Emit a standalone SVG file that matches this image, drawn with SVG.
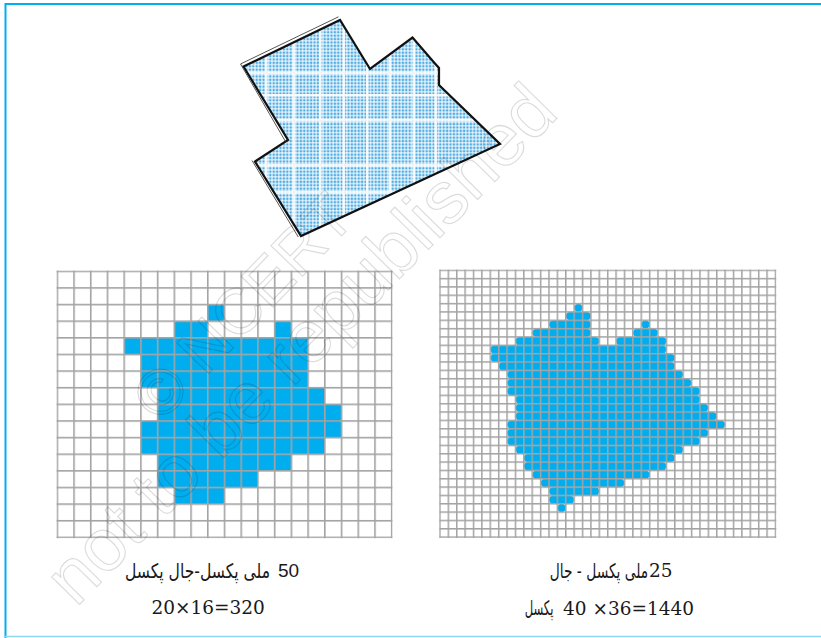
<svg xmlns="http://www.w3.org/2000/svg" width="821" height="638" viewBox="0 0 821 638">
<style>
.frame{stroke:#00aeef;stroke-width:2;fill:none}
.cell{fill:#00aeef}
.gl{fill:#a3a3a3}
.num{font-family:"DejaVu Serif","Liberation Serif",serif;font-size:18.5px;fill:#1a1a1a}
.urdu{font-family:"DejaVu Sans","Noto Sans",sans-serif;font-size:20px;fill:#1a1a1a}
.wm{font-family:"Liberation Sans",Arial,sans-serif;fill:none;stroke:#000;stroke-opacity:.14;stroke-width:1.2}
</style>
<defs>
<pattern id="dots" width="3.4" height="3.4" patternUnits="userSpaceOnUse">
<rect width="3.4" height="3.4" fill="#e6f3fb"/>
<circle cx="1.7" cy="1.7" r="1.25" fill="#52ade2"/>
</pattern>
<pattern id="grid50" x="56.5" y="270.5" width="16.72" height="16.63" patternUnits="userSpaceOnUse">
<rect class="gl" width="16.72" height="1.6"/>
<rect class="gl" width="1.6" height="16.63"/>
</pattern>
<pattern id="grid25" x="439.2" y="269.5" width="8.3875" height="8.34" patternUnits="userSpaceOnUse">
<rect class="gl" width="8.3875" height="1.5"/>
<rect class="gl" width="1.5" height="8.34"/>
</pattern>
<clipPath id="mapclip">
<polygon points="243.5,66.5 340,20 370,69 412.5,37.5 434.5,63 439,68 439,85 500,144 301,236 255,161.5 288,140"/>
</clipPath>
</defs>
<rect width="821" height="638" fill="#ffffff"/>
<g id="frame">
<line class="frame" x1="5" y1="4" x2="821" y2="4"/>
<line class="frame" x1="5.5" y1="3" x2="5.5" y2="638"/>
<line x1="5" y1="636.5" x2="821" y2="636.5" stroke="#8fd6f2" stroke-width="1.5"/>
</g>
<g id="map">
<polygon points="243.5,66.5 340,20 370,69 412.5,37.5 434.5,63 439,68 439,85 500,144 301,236 255,161.5 288,140" fill="url(#dots)"/>
<g clip-path="url(#mapclip)" fill="#ffffff" opacity=".85">
<rect x="265" y="0" width="2.6" height="260"/>
<rect x="292.5" y="0" width="2.6" height="260"/>
<rect x="319" y="0" width="2.6" height="260"/>
<rect x="342.5" y="0" width="2.6" height="260"/>
<rect x="366" y="0" width="2.6" height="260"/>
<rect x="388.5" y="0" width="2.6" height="260"/>
<rect x="412.5" y="0" width="2.6" height="260"/>
<rect x="434.5" y="0" width="2.6" height="260"/>
<rect x="230" y="71.5" width="290" height="2.6"/>
<rect x="230" y="94" width="290" height="2.6"/>
<rect x="230" y="119" width="290" height="2.6"/>
<rect x="230" y="164" width="290" height="2.6"/>
<rect x="230" y="191" width="290" height="2.6"/>
</g>
<polygon points="243.5,66.5 340,20 370,69 412.5,37.5 434.5,63 439,68 439,85 500,144 301,236 255,161.5 288,140" fill="none" stroke="#111" stroke-width="2.2" stroke-linejoin="miter"/>
<polyline points="285.3,141.2 240.5,64 338.5,16.8" fill="none" stroke="#555" stroke-width="1"/>
<polyline points="252,160.5 298.3,237" fill="none" stroke="#555" stroke-width="1"/>
</g>
<g id="grid-50">
<g transform="translate(57.3 271.3) scale(16.72 16.63)" class="cell">
<rect x="9" y="2" width="1" height="1" rx=".12"/>
<rect x="7" y="3" width="2" height="1" rx=".12"/>
<rect x="13" y="3" width="1" height="1" rx=".12"/>
<rect x="4" y="4" width="11" height="1" rx=".12"/>
<rect x="5" y="5" width="10" height="2" rx=".12"/>
<rect x="6" y="7" width="10" height="1" rx=".12"/>
<rect x="6" y="8" width="11" height="1" rx=".12"/>
<rect x="5" y="9" width="12" height="1" rx=".12"/>
<rect x="5" y="10" width="11" height="1" rx=".12"/>
<rect x="6" y="11" width="8" height="1" rx=".12"/>
<rect x="6" y="12" width="6" height="1" rx=".12"/>
<rect x="7" y="13" width="3" height="1" rx=".12"/>
</g>
<rect x="56.5" y="270.5" width="336" height="267.7" fill="url(#grid50)"/>
</g>
<g id="grid-25">
<g transform="translate(440 270.3) scale(8.3875 8.34)" class="cell">
<rect x="16" y="4" width="1" height="1" rx=".5"/>
<rect x="15" y="5" width="3" height="1" rx=".5"/>
<rect x="13" y="6" width="5" height="1" rx=".5"/>
<rect x="24" y="6" width="1" height="1" rx=".5"/>
<rect x="11" y="7" width="7" height="1" rx=".5"/>
<rect x="23" y="7" width="3" height="1" rx=".5"/>
<rect x="9" y="8" width="10" height="1" rx=".5"/>
<rect x="21" y="8" width="6" height="1" rx=".5"/>
<rect x="6" y="9" width="21" height="1" rx=".5"/>
<rect x="6" y="10" width="22" height="1" rx=".5"/>
<rect x="7" y="11" width="21" height="1" rx=".5"/>
<rect x="8" y="12" width="21" height="1" rx=".5"/>
<rect x="8" y="13" width="22" height="1" rx=".5"/>
<rect x="8" y="14" width="23" height="1" rx=".5"/>
<rect x="9" y="15" width="22" height="1" rx=".5"/>
<rect x="9" y="16" width="23" height="1" rx=".5"/>
<rect x="9" y="17" width="24" height="1" rx=".5"/>
<rect x="8" y="18" width="26" height="1" rx=".5"/>
<rect x="8" y="19" width="24" height="1" rx=".5"/>
<rect x="8" y="20" width="23" height="1" rx=".5"/>
<rect x="9" y="21" width="20" height="1" rx=".5"/>
<rect x="10" y="22" width="18" height="1" rx=".5"/>
<rect x="10" y="23" width="17" height="1" rx=".5"/>
<rect x="11" y="24" width="14" height="1" rx=".5"/>
<rect x="12" y="25" width="10" height="1" rx=".5"/>
<rect x="13" y="26" width="6" height="1" rx=".5"/>
<rect x="13" y="27" width="3" height="1" rx=".5"/>
<rect x="14" y="28" width="1" height="1" rx=".5"/>
</g>
<rect x="439.2" y="269.5" width="337.1" height="268.5" fill="url(#grid25)"/>
</g>
<g id="label-50">
<text class="urdu" transform="translate(197.5 578) scale(.78 1)" text-anchor="middle" direction="rtl">ملی پکسل-جال پکسل</text>
<text x="278" y="577" font-family="Liberation Sans, Arial, sans-serif" font-size="19" fill="#1a1a1a">50</text>
<text class="num" x="151.5" y="613.5">20×16=320</text>
</g>
<g id="label-25">
<text class="urdu" transform="translate(599 578) scale(.69 1)" text-anchor="middle" direction="rtl">ملی پکسل - جال</text>
<text class="num" x="649" y="577" font-size="19">25</text>
<text class="urdu" transform="translate(539 615) scale(.58 1)" text-anchor="middle" direction="rtl">پکسل</text>
<text class="num" x="563" y="615">40 ×36=1440</text>
</g>
<g id="watermark">
<text class="wm" font-size="64" transform="translate(160 424) rotate(-46)">© NCERT</text>
<text class="wm" font-size="74" transform="translate(76 608) rotate(-45.5)">not to be republished</text>
</g>
</svg>
